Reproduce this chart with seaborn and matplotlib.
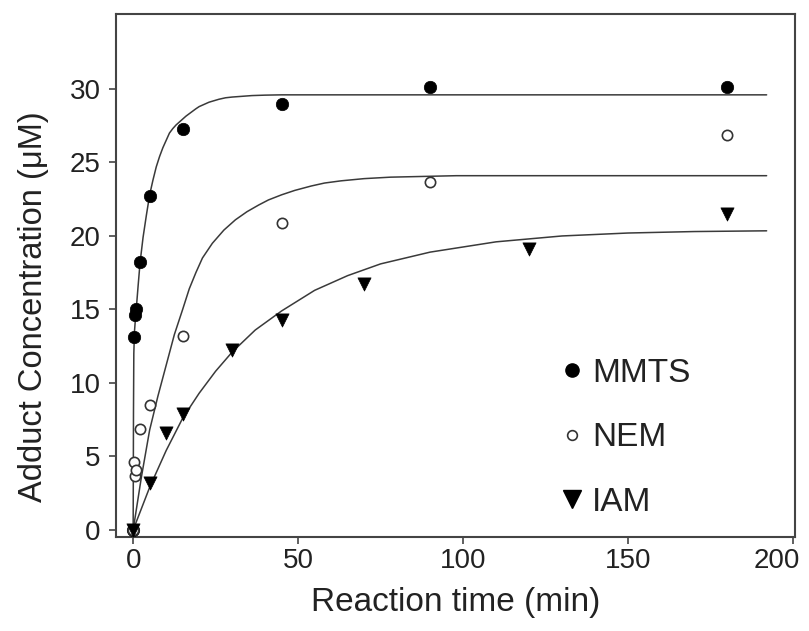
import numpy as np
import pandas as pd
import matplotlib
matplotlib.use("Agg")
import matplotlib.pyplot as plt
import matplotlib.transforms as mtransforms
import seaborn as sns
from matplotlib.lines import Line2D

# Dados medidos (pontos)
t_mmts = [0, 0.25, 0.5, 1, 2, 5, 15, 45, 90, 180]
y_mmts = [0, 13.1, 14.6, 15.0, 18.2, 22.7, 27.3, 29.0, 30.1, 30.1]

t_nem = [0, 0.25, 0.5, 1, 2, 5, 15, 45, 90, 180]
y_nem = [0, 4.65, 3.65, 4.1, 6.85, 8.5, 13.2, 20.9, 23.65, 26.9]

t_iam = [0, 5, 10, 15, 30, 45, 70, 120, 180]
y_iam = [0, 3.2, 6.6, 7.9, 12.25, 14.3, 16.75, 19.1, 21.5]

# Curvas ajustadas
tc_mmts = [0, 0.1, 0.2, 0.4, 0.7, 1.0, 1.5, 2.1, 3, 4, 5, 6, 7, 8, 9, 10, 11,
           12, 13, 14, 15, 16, 17.5, 19, 20, 21.5, 23, 24.5, 26, 28, 30, 33,
           36, 40, 45, 192]
yc_mmts = [0, 8.0, 12.0, 13.5, 14.4, 15.2, 16.6, 18.2, 19.9, 21.4, 22.8, 23.8,
           24.7, 25.4, 26.0, 26.5, 27.0, 27.3, 27.55, 27.75, 27.95, 28.15,
           28.4, 28.65, 28.8, 28.95, 29.1, 29.2, 29.3, 29.4, 29.45, 29.5,
           29.55, 29.58, 29.6, 29.6]

tc_nem = [0, 2.5, 5, 7.5, 10, 12.5, 15, 17, 19, 21, 24, 27.5, 31, 34.5, 38,
          41, 45, 49, 54, 58, 63, 70, 78, 88, 98, 192]
yc_nem = [0, 3.6, 6.8, 9.1, 11.2, 13.3, 15.0, 16.4, 17.5, 18.5, 19.5, 20.4,
          21.1, 21.65, 22.1, 22.45, 22.8, 23.1, 23.4, 23.6, 23.75, 23.9, 24.0,
          24.05, 24.1, 24.1]

tc_iam = [0, 5, 10, 15, 20, 25, 30, 37, 45, 55, 65, 75, 90, 110, 130, 150, 170, 192]
yc_iam = [0, 2.9, 5.4, 7.6, 9.3, 10.8, 12.1, 13.6, 14.9, 16.3, 17.3, 18.1,
          18.9, 19.6, 20.0, 20.2, 20.3, 20.35]

labels = ["MMTS", "NEM", "IAM"]

sns.set_style("ticks")
plt.rcParams['font.family'] = ['Liberation Sans', 'DejaVu Sans']

fig = plt.figure(figsize=(8.09, 6.31), dpi=100)
ax = fig.add_axes([116/809, 1-537/631, (795-116)/809, (537-14)/631])

linha = '#3a3a3a'
sns.lineplot(x=tc_mmts, y=yc_mmts, color=linha, lw=1.1, ax=ax, legend=False)
sns.lineplot(x=tc_nem, y=yc_nem, color=linha, lw=1.1, ax=ax, legend=False)
sns.lineplot(x=tc_iam, y=yc_iam, color=linha, lw=1.1, ax=ax, legend=False)

sns.scatterplot(x=t_mmts, y=y_mmts, marker='o', s=80, color='black',
                edgecolor='black', linewidth=0.5, ax=ax, zorder=4)
sns.scatterplot(x=t_nem, y=y_nem, marker='o', s=55, facecolor='white',
                edgecolor='#333333', linewidth=1.2, ax=ax, zorder=4)
sns.scatterplot(x=t_iam, y=y_iam, marker='v', s=90, color='black',
                edgecolor='black', linewidth=0.5, ax=ax, zorder=4)

ax.set_xlim(-5.2, 200.6)
ax.set_ylim(-0.48, 35.1)
ax.set_xticks([0, 50, 100, 150, 200])
ax.set_yticks([0, 5, 10, 15, 20, 25, 30])

for s in ax.spines.values():
    s.set_color('#444444')
    s.set_linewidth(1.5)
ax.tick_params(direction='out', length=5, width=1.2, color='#444444',
               labelsize=20, pad=3, labelcolor='#222222')
ax.tick_params(axis='y', pad=6)

# o rótulo "200" fica deslocado para caber na figura
ultimo = ax.xaxis.get_major_ticks()[-1].label1
ultimo.set_transform(ultimo.get_transform() +
                     mtransforms.ScaledTranslation(-16/100, 0, fig.dpi_scale_trans))

ax.set_xlabel("Reaction time (min)", fontsize=24, color='#222222', labelpad=9)
ax.set_ylabel("Adduct Concentration (μM)", fontsize=23.5, color='#222222')
ax.yaxis.set_label_coords(-0.098, 0.44)

handles = [
    Line2D([], [], ls='none', marker='o', ms=9.5, color='black'),
    Line2D([], [], ls='none', marker='o', ms=7, mfc='white', mec='#333333', mew=1.2),
    Line2D([], [], ls='none', marker='v', ms=12.5, color='black'),
]
ax.legend(handles, labels, frameon=False, fontsize=24, loc='upper left',
          bbox_to_anchor=((562-116)/(795-116), 1-(358-14)/(537-14)),
          handlelength=0.6, handletextpad=0.3, labelspacing=1.0,
          borderaxespad=0, borderpad=0, labelcolor='#222222')

fig.savefig("out.png", dpi=100, facecolor='white')
